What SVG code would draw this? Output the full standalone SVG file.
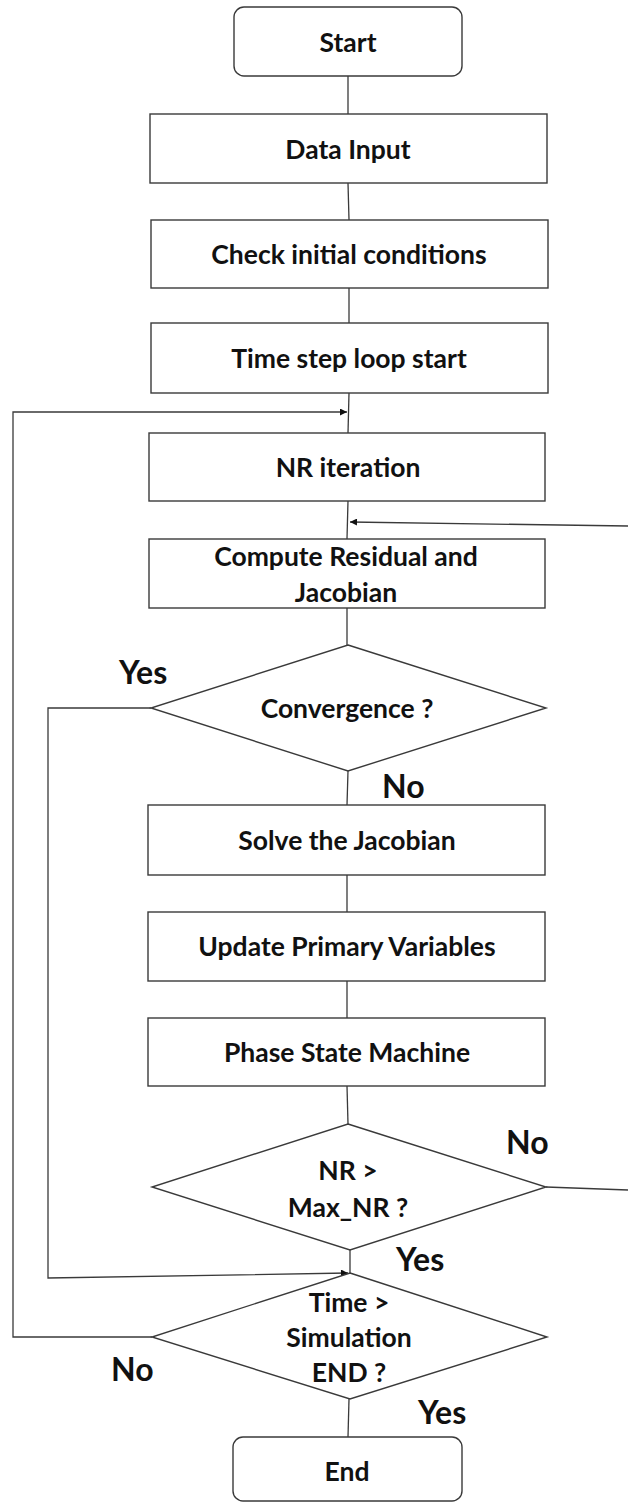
<svg xmlns="http://www.w3.org/2000/svg" width="628" height="1504" viewBox="0 0 628 1504">
  <style>
    .box { fill: #ffffff; stroke: #3a3a3a; stroke-width: 1.4; }
    .edge { fill: none; stroke: #3a3a3a; stroke-width: 1.3; }
    .lbl { font-family: Lato, "Open Sans", "Liberation Sans", sans-serif; font-weight: bold; font-size: 26.5px; fill: #111111; text-anchor: middle; dominant-baseline: central; }
    .tag { font-family: Lato, "Open Sans", "Liberation Sans", sans-serif; font-weight: bold; font-size: 32px; fill: #111111; }
  </style>
  <defs>
    <marker id="arrow" viewBox="0 0 10 10" refX="10" refY="5" markerWidth="9" markerHeight="7" markerUnits="userSpaceOnUse" orient="auto">
      <path d="M0,0 L10,5 L0,10 Z" fill="#111111"/>
    </marker>
  </defs>

  <rect width="628" height="1504" fill="#ffffff"/>

  <!-- connectors -->
  <g id="connectors">
    <line class="edge" x1="348" y1="76" x2="348" y2="114"/>
    <line class="edge" x1="348" y1="183" x2="349" y2="220"/>
    <line class="edge" x1="349" y1="288" x2="349" y2="323"/>
    <line class="edge" x1="349" y1="393" x2="348" y2="433"/>
    <line class="edge" x1="348" y1="501" x2="347" y2="539"/>
    <line class="edge" x1="347" y1="608" x2="347" y2="645"/>
    <line class="edge" x1="348" y1="771" x2="347" y2="805"/>
    <line class="edge" x1="347" y1="875" x2="347" y2="912"/>
    <line class="edge" x1="347" y1="981" x2="347" y2="1018"/>
    <line class="edge" x1="347" y1="1086" x2="348" y2="1124"/>
    <line class="edge" x1="350" y1="1250" x2="350" y2="1273"/>
    <line class="edge" x1="349" y1="1399" x2="348" y2="1437"/>
    <!-- time loop back to NR iteration -->
    <polyline class="edge" points="152,1337 13,1337 13,412 347,412" marker-end="url(#arrow)"/>
    <!-- NR limit not reached: back to residual computation -->
    <line class="edge" x1="546" y1="1187" x2="628" y2="1190"/>
    <line class="edge" x1="628" y1="526" x2="350" y2="522" marker-end="url(#arrow)"/>
    <!-- converged: go to time check -->
    <polyline class="edge" points="151,708 48,708 48,1278 348,1273" marker-end="url(#arrow)"/>
  </g>

  <g id="start">
    <rect class="box" x="234" y="7" width="228" height="69" rx="10"/>
    <text class="lbl" x="348" y="42">Start</text>
  </g>
  <g id="data-input">
    <rect class="box" x="150" y="114" width="397" height="69"/>
    <text class="lbl" x="348" y="149">Data Input</text>
  </g>
  <g id="check-initial">
    <rect class="box" x="151" y="220" width="397" height="68"/>
    <text class="lbl" x="349" y="254">Check initial conditions</text>
  </g>
  <g id="time-step">
    <rect class="box" x="151" y="323" width="397" height="70"/>
    <text class="lbl" x="349" y="358">Time step loop start</text>
  </g>
  <g id="nr-iteration">
    <rect class="box" x="149" y="433" width="396" height="68"/>
    <text class="lbl" x="348" y="467">NR iteration</text>
  </g>
  <g id="compute-residual">
    <rect class="box" x="149" y="539" width="396" height="69"/>
    <text class="lbl" x="346" y="556">Compute Residual and</text>
    <text class="lbl" x="346" y="592">Jacobian</text>
  </g>
  <g id="convergence">
    <polygon class="box" points="348,645 546,708 348,771 151,708"/>
    <text class="lbl" x="347" y="708">Convergence ?</text>
  </g>
  <g id="solve-jacobian">
    <rect class="box" x="148" y="805" width="397" height="70"/>
    <text class="lbl" x="347" y="840">Solve the Jacobian</text>
  </g>
  <g id="update-primary">
    <rect class="box" x="148" y="912" width="397" height="69"/>
    <text class="lbl" x="347" y="946">Update Primary Variables</text>
  </g>
  <g id="phase-state">
    <rect class="box" x="148" y="1018" width="397" height="68"/>
    <text class="lbl" x="347" y="1052">Phase State Machine</text>
  </g>
  <g id="nr-max">
    <polygon class="box" points="348,1124 546,1187 350,1250 152,1187"/>
    <text class="lbl" x="348" y="1170">NR &gt;</text>
    <text class="lbl" x="348" y="1207">Max_NR ?</text>
  </g>
  <g id="time-end">
    <polygon class="box" points="350,1273 547,1337 350,1399 152,1337"/>
    <text class="lbl" x="349" y="1302">Time &gt;</text>
    <text class="lbl" x="349" y="1337">Simulation</text>
    <text class="lbl" x="349" y="1372">END ?</text>
  </g>
  <g id="end">
    <rect class="box" x="233" y="1437" width="229" height="64" rx="10"/>
    <text class="lbl" x="347" y="1471">End</text>
  </g>

  <!-- branch labels -->
  <g id="branch-labels">
    <text class="tag" x="119" y="684">Yes</text>
    <text class="tag" x="382" y="798">No</text>
    <text class="tag" x="506" y="1154">No</text>
    <text class="tag" x="396" y="1271">Yes</text>
    <text class="tag" x="111" y="1381">No</text>
    <text class="tag" x="418" y="1424">Yes</text>
  </g>
</svg>
